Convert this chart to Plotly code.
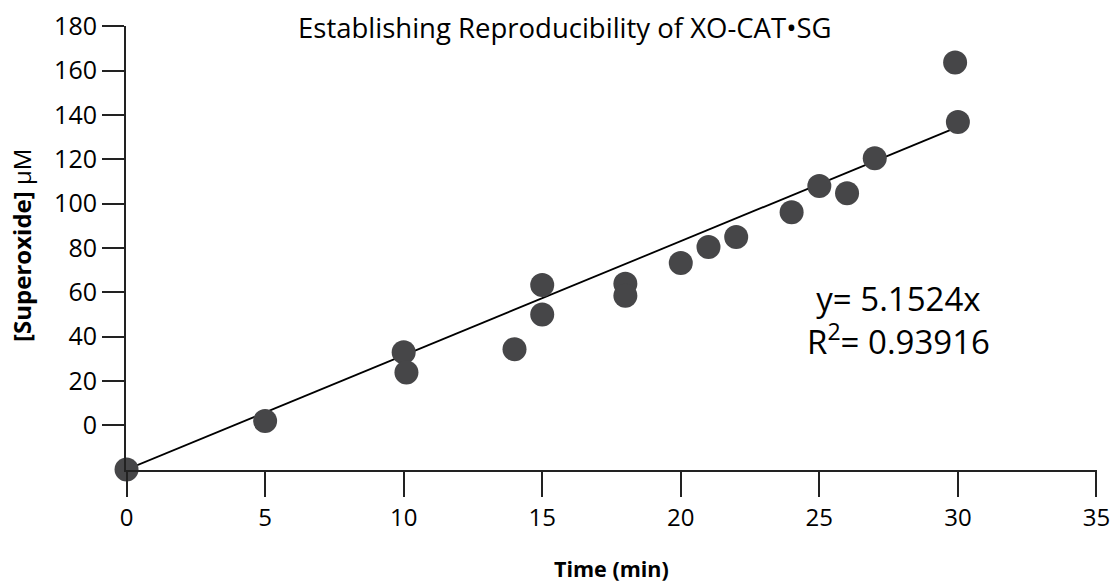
import plotly.graph_objects as go

# Data (y values on the fit scale; the printed axis labels are offset by 20)
time_min = [0, 5, 10, 10.1, 14, 15, 15, 18, 18, 20, 21, 22, 24, 25, 26, 27, 29.9, 30]
superoxide = [0, 21.9, 52.9, 43.8, 54.3, 83.3, 70.0, 83.8, 78.4, 93.2, 100.4, 104.9,
              116.1, 127.9, 124.7, 140.4, 183.6, 156.8]
slope = 5.1524
r2 = 0.93916
fit_x = [0, 30]
fit_y = [slope * v for v in fit_x]

x_ticks = [0, 5, 10, 15, 20, 25, 30, 35]
y_tick_vals = [20, 40, 60, 80, 100, 120, 140, 160, 180, 200]
y_tick_text = ["0", "20", "40", "60", "80", "100", "120", "140", "160", "180"]

FONT = "Open Sans"

fig = go.Figure()
fig.add_trace(go.Scatter(x=fit_x, y=fit_y, mode="lines",
                         line=dict(color="black", width=1.8), cliponaxis=False,
                         showlegend=False, hoverinfo="skip"))
fig.add_trace(go.Scatter(x=time_min, y=superoxide, mode="markers",
                         marker=dict(size=24, color="#464648", line=dict(width=0)),
                         cliponaxis=False, showlegend=False))

fig.update_layout(
    width=1110, height=583,
    margin=dict(l=126, r=13, t=26, b=113),
    plot_bgcolor="white", paper_bgcolor="white",
    font=dict(family=FONT, color="black", size=25),
    xaxis=dict(range=[-0.02, 35.02], tickvals=x_ticks, ticks="outside", ticklen=25,
               tickwidth=2, tickcolor="#222", showline=True, linecolor="#222",
               linewidth=2, showgrid=False, zeroline=False, automargin=False,
               ticklabeloverflow="allow",
               tickfont=dict(size=24, family=FONT, color="black")),
    yaxis=dict(range=[-0.2, 200.1], tickvals=y_tick_vals, ticktext=y_tick_text,
               ticks="outside", ticklen=22, tickwidth=2, tickcolor="#222",
               showline=True, linecolor="#222", linewidth=2, showgrid=False,
               zeroline=False, automargin=False, ticklabeloverflow="allow",
               tickfont=dict(size=25, family=FONT, color="black")),
    annotations=[
        dict(text="Establishing Reproducibility of XO-CAT•SG", xref="paper", yref="paper",
             x=0.452, y=0.997, xanchor="center", yanchor="middle", showarrow=False,
             font=dict(size=27.5, family=FONT, color="black")),
        dict(text="<b>Time (min)</b>", xref="paper", yref="paper", x=0.5, y=-0.222,
             xanchor="center", yanchor="middle", showarrow=False,
             font=dict(size=21.5, family=FONT, color="black")),
        dict(text="<b>[Superoxide]</b> μM", xref="paper", yref="paper", x=-0.107, y=0.505,
             xanchor="center", yanchor="middle", textangle=-90, showarrow=False,
             font=dict(size=24, family=FONT, color="black")),
        dict(text=f"y= {slope}x<br>R<sup>2</sup>= {r2}", xref="x", yref="y",
             x=27.85, y=67.4, xanchor="center", yanchor="middle", align="center",
             showarrow=False, font=dict(size=33, family=FONT, color="black")),
    ],
)

fig.write_html("out.html")
